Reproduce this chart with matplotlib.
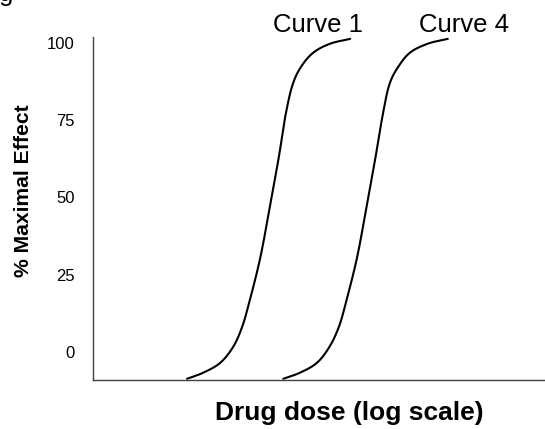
import matplotlib
matplotlib.use("Agg")
import matplotlib.pyplot as plt
import numpy as np

# ---- data (log-dose units, % maximal effect) ----
curve1_dose = [2.08, 2.43, 2.81, 3.10, 3.30, 3.47, 3.70, 3.92, 4.12, 4.26, 4.43, 4.60, 4.87, 5.24, 5.69]
curve1_effect = [-8.7, -6.8, -3.6, 1.6, 8.1, 16.8, 30.4, 47.6, 63.8, 76.7, 87.1, 92.2, 96.8, 99.7, 101.3]

curve4_dose = [4.21, 4.57, 4.95, 5.23, 5.44, 5.61, 5.84, 6.06, 6.26, 6.41, 6.57, 6.75, 7.01, 7.40, 7.85]
curve4_effect = [-8.7, -6.8, -3.6, 1.6, 8.1, 16.8, 30.4, 47.6, 63.8, 76.7, 87.1, 92.2, 96.8, 99.7, 101.3]

y_ticks = [0, 25, 50, 75, 100]
y_ticklabels = ["0", "25", "50", "75", "100"]
curve_labels = ["Curve 1", "Curve 4"]
x_label = "Drug dose (log scale)"
y_label = "% Maximal Effect"


def smooth_line(ax, xs, ys, n=24, alpha=0.5):
    """Centripetal Catmull-Rom rendering (in display space) of a hand-drawn line."""
    pts = ax.transData.transform(np.column_stack([xs, ys]))
    p = np.vstack([2 * pts[0] - pts[1], pts, 2 * pts[-1] - pts[-2]])
    out = []
    for i in range(1, len(p) - 2):
        P0, P1, P2, P3 = p[i - 1], p[i], p[i + 1], p[i + 2]
        t0 = 0.0
        t1 = t0 + np.linalg.norm(P1 - P0) ** alpha
        t2 = t1 + np.linalg.norm(P2 - P1) ** alpha
        t3 = t2 + np.linalg.norm(P3 - P2) ** alpha
        t = np.linspace(t1, t2, n, endpoint=False)[:, None]
        A1 = (t1 - t) / (t1 - t0) * P0 + (t - t0) / (t1 - t0) * P1
        A2 = (t2 - t) / (t2 - t1) * P1 + (t - t1) / (t2 - t1) * P2
        A3 = (t3 - t) / (t3 - t2) * P2 + (t - t2) / (t3 - t2) * P3
        B1 = (t2 - t) / (t2 - t0) * A1 + (t - t0) / (t2 - t0) * A2
        B2 = (t3 - t) / (t3 - t1) * A2 + (t - t1) / (t3 - t1) * A3
        C = (t2 - t) / (t2 - t1) * B1 + (t - t1) / (t2 - t1) * B2
        out.append(C)
    out.append(p[-2][None, :])
    out = ax.transData.inverted().transform(np.vstack(out))
    return out[:, 0], out[:, 1]


plt.rcParams['font.family'] = ['Liberation Sans', 'DejaVu Sans']

W, H = 545, 429
fig = plt.figure(figsize=(W / 100, H / 100), dpi=100)
ax = fig.add_axes([93 / W, 1 - 380 / H, (545 - 93) / W, (380 - 37) / H])

ax.set_xlim(0, 10)
ax.set_ylim(-9.1, 101.9)

for xs, ys in [(curve1_dose, curve1_effect), (curve4_dose, curve4_effect)]:
    sx, sy = smooth_line(ax, xs, ys)
    ax.plot(sx, sy, color='black', lw=1.5, solid_capstyle='round', clip_on=False)

ax.set_yticks(y_ticks)
ax.set_yticklabels(y_ticklabels, fontsize=12)
ax.set_xticks([])
ax.tick_params(axis='y', length=0, pad=13)

for s in ['top', 'right']:
    ax.spines[s].set_visible(False)
for s in ['left', 'bottom']:
    ax.spines[s].set_color('#404040')
    ax.spines[s].set_linewidth(1.0)

# curve labels
fig.text(318 / W, 1 - 31.5 / H, curve_labels[0], fontsize=18.5, ha='center', va='baseline')
fig.text(464 / W, 1 - 31.5 / H, curve_labels[1], fontsize=18.5, ha='center', va='baseline')

# axis labels
fig.text(349 / W, 1 - 420 / H, x_label, fontsize=19, fontweight='bold', ha='center', va='baseline')
fig.text(24 / W, 1 - 191 / H, y_label, fontsize=15.2, fontweight='bold', rotation=90,
         ha='center', va='center')

# cut-off fragment of a heading at the top-left edge (only its descender shows)
fig.text(-0.002, 1 - 1.5 / H, "g", fontsize=18.5, ha='left', va='baseline')

fig.savefig("out.png", dpi=100)
